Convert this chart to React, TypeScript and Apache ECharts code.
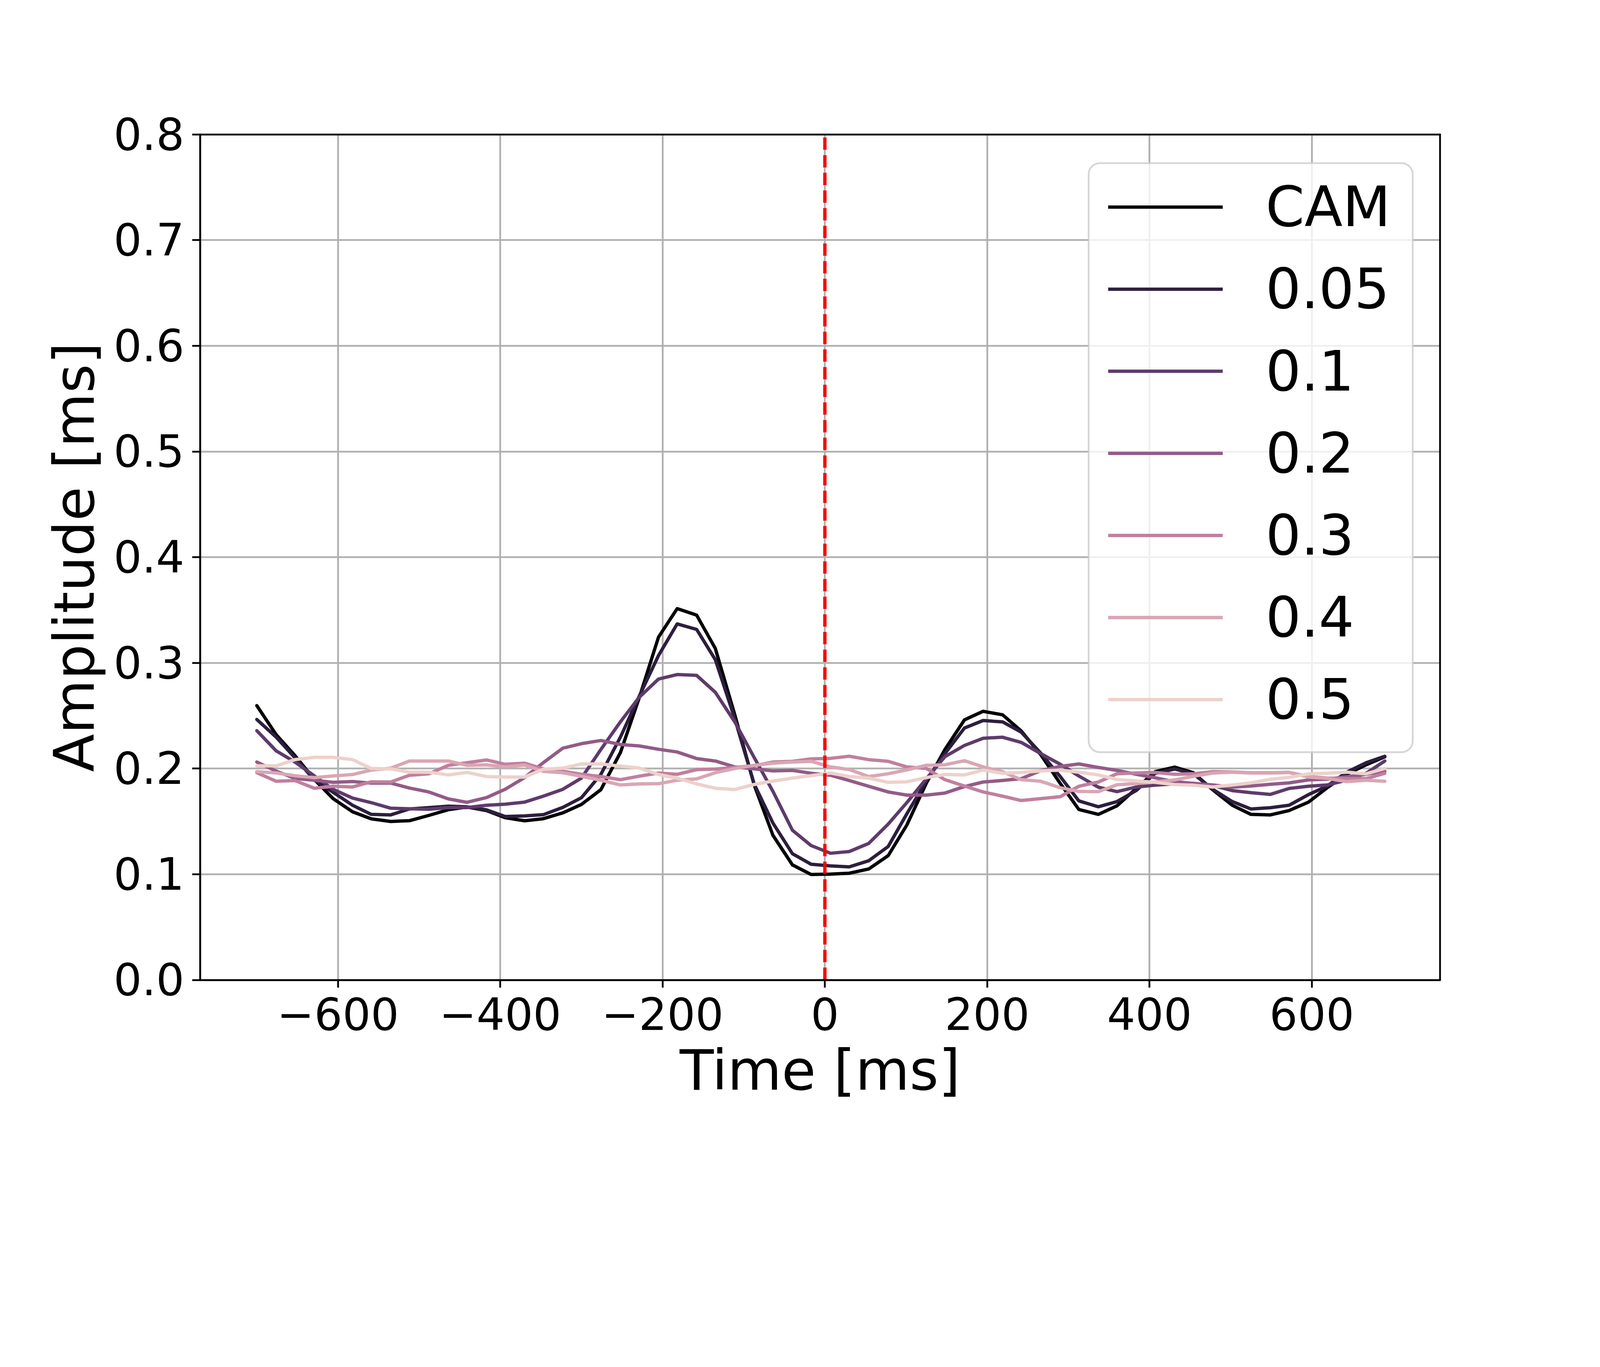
import React, { useEffect, useRef } from "react";
import * as echarts from "echarts";

// Sampling times (ms)
const TIMES = [-700, -676, -653, -629, -606, -582, -559, -535, -512, -488, -464, -441, -417, -394, -370, -347, -323, -300, -276, -252, -229, -205, -182, -158, -135, -111, -87, -64, -40, -17, 7, 30, 54, 78, 101, 125, 148, 172, 195, 219, 242, 266, 290, 313, 337, 360, 384, 407, 431, 454, 478, 502, 525, 549, 572, 596, 619, 643, 667, 690];

const CAM = [0.2595, 0.2319, 0.2122, 0.1895, 0.1715, 0.159, 0.1524, 0.1499, 0.1506, 0.1556, 0.161, 0.1635, 0.1602, 0.1535, 0.1505, 0.1525, 0.158, 0.166, 0.18, 0.215, 0.2663, 0.3243, 0.3513, 0.3451, 0.3136, 0.2508, 0.1842, 0.1368, 0.1088, 0.0997, 0.1001, 0.1009, 0.1049, 0.1175, 0.1465, 0.1861, 0.218, 0.246, 0.2541, 0.2508, 0.2354, 0.2131, 0.1859, 0.1612, 0.1566, 0.1647, 0.1813, 0.197, 0.2013, 0.196, 0.1798, 0.1652, 0.1566, 0.1561, 0.1602, 0.1682, 0.1818, 0.1945, 0.2035, 0.2111];
const S005 = [0.2464, 0.2296, 0.2102, 0.189, 0.1775, 0.1652, 0.1566, 0.1561, 0.1617, 0.163, 0.1644, 0.1637, 0.1609, 0.1546, 0.1551, 0.1563, 0.1632, 0.1723, 0.1945, 0.2296, 0.268, 0.3069, 0.3368, 0.3316, 0.303, 0.247, 0.1851, 0.1484, 0.1194, 0.1094, 0.1078, 0.1069, 0.1127, 0.1262, 0.1571, 0.188, 0.2141, 0.2383, 0.2454, 0.2441, 0.2344, 0.2146, 0.1924, 0.1693, 0.1638, 0.1687, 0.1793, 0.1955, 0.1995, 0.195, 0.1803, 0.1687, 0.1617, 0.1629, 0.1652, 0.1753, 0.1834, 0.1965, 0.2055, 0.2116];
const S01 = [0.2358, 0.2166, 0.2061, 0.1929, 0.1803, 0.172, 0.1677, 0.1624, 0.1619, 0.1614, 0.163, 0.163, 0.1652, 0.1662, 0.1682, 0.1738, 0.1803, 0.1909, 0.218, 0.2441, 0.2672, 0.2846, 0.2889, 0.2881, 0.2721, 0.2441, 0.2102, 0.1784, 0.1416, 0.1271, 0.1198, 0.1214, 0.1291, 0.1474, 0.1677, 0.1903, 0.2112, 0.2218, 0.2286, 0.2296, 0.2247, 0.2141, 0.204, 0.1929, 0.1823, 0.1781, 0.1825, 0.1842, 0.1854, 0.1859, 0.1839, 0.1791, 0.1771, 0.1755, 0.1811, 0.1832, 0.1844, 0.1889, 0.1955, 0.2071];
const S02 = [0.2061, 0.1975, 0.1906, 0.1889, 0.1869, 0.1877, 0.1862, 0.1862, 0.1815, 0.1778, 0.1712, 0.168, 0.1725, 0.1803, 0.1914, 0.2055, 0.2192, 0.2235, 0.2265, 0.2227, 0.2214, 0.2182, 0.2156, 0.2094, 0.2071, 0.2015, 0.1997, 0.1977, 0.1982, 0.1955, 0.1936, 0.1886, 0.1832, 0.1778, 0.1748, 0.1748, 0.1768, 0.1829, 0.1872, 0.1887, 0.1904, 0.198, 0.202, 0.2043, 0.201, 0.1982, 0.1945, 0.1912, 0.1876, 0.1859, 0.1844, 0.1823, 0.1834, 0.1851, 0.1864, 0.1892, 0.1899, 0.1922, 0.1945, 0.1975];
const S03 = [0.196, 0.1879, 0.1886, 0.1813, 0.1832, 0.1825, 0.1874, 0.1872, 0.1936, 0.195, 0.203, 0.2055, 0.2081, 0.204, 0.205, 0.1997, 0.1975, 0.1945, 0.1924, 0.1894, 0.1927, 0.1957, 0.1945, 0.1989, 0.1995, 0.201, 0.2027, 0.2061, 0.2068, 0.2091, 0.2096, 0.2116, 0.2084, 0.2068, 0.2015, 0.2, 0.1894, 0.1834, 0.1778, 0.1738, 0.1697, 0.1715, 0.1733, 0.1832, 0.1872, 0.195, 0.1958, 0.1963, 0.1945, 0.195, 0.197, 0.1967, 0.196, 0.196, 0.1963, 0.1924, 0.1909, 0.1904, 0.1904, 0.1955];
const S04 = [0.197, 0.1958, 0.1931, 0.1914, 0.1929, 0.1943, 0.1985, 0.2003, 0.2071, 0.2071, 0.2071, 0.203, 0.2035, 0.2015, 0.2033, 0.1973, 0.196, 0.1926, 0.1889, 0.1844, 0.1854, 0.1856, 0.1889, 0.1902, 0.196, 0.2, 0.203, 0.205, 0.2061, 0.2068, 0.2015, 0.199, 0.1924, 0.195, 0.1987, 0.203, 0.2035, 0.2074, 0.2015, 0.197, 0.1894, 0.1879, 0.1818, 0.1783, 0.1781, 0.1846, 0.1857, 0.1872, 0.1892, 0.1926, 0.1957, 0.1965, 0.1957, 0.1957, 0.1963, 0.1919, 0.1906, 0.1876, 0.1889, 0.1879];
const S05 = [0.2025, 0.2025, 0.2084, 0.2106, 0.2106, 0.2084, 0.2, 0.1997, 0.1965, 0.1965, 0.1939, 0.1963, 0.1924, 0.1919, 0.1919, 0.1993, 0.2003, 0.2043, 0.2043, 0.2023, 0.2005, 0.1943, 0.1909, 0.1854, 0.1813, 0.1801, 0.1849, 0.1881, 0.1909, 0.1932, 0.1957, 0.1924, 0.1909, 0.1869, 0.1874, 0.1914, 0.1943, 0.1939, 0.1985, 0.1955, 0.1963, 0.1977, 0.1985, 0.1965, 0.1939, 0.1896, 0.1882, 0.1869, 0.1848, 0.1842, 0.1825, 0.1844, 0.1864, 0.1898, 0.1916, 0.1949, 0.1955, 0.1965, 0.195, 0.2];

const SERIES_NAMES = ["CAM", "0.05", "0.1", "0.2", "0.3", "0.4", "0.5"];
const SERIES_VALUES = [CAM, S005, S01, S02, S03, S04, S05];
const COLORS = ["#030204", "#2d1e3e", "#5e3b6b", "#935b88", "#c17f9f", "#daa6b3", "#edd1cb"];

const X_TICKS = [-600, -400, -200, 0, 200, 400, 600];
const X_MIN = -770;
const X_MAX = 758;
const Y_MIN = 0;
const Y_MAX = 0.8;
const Y_STEP = 0.1;
const VLINE_X = 0;

const FONT = "DejaVu Sans";
const DESIGN_W = 5000;
const DESIGN_H = 3500;

export default function App() {
  const ref = useRef<HTMLDivElement>(null);
  const vw = typeof window !== "undefined" && window.innerWidth ? window.innerWidth : DESIGN_W;
  const vh = typeof window !== "undefined" && window.innerHeight ? window.innerHeight : DESIGN_H;
  const s = Math.min(vw / DESIGN_W, vh / DESIGN_H);
  const W = DESIGN_W * s;
  const H = DESIGN_H * s;

  useEffect(() => {
    if (!ref.current) return;
    const p = (v: number) => v * s;
    const chart = echarts.init(ref.current, undefined, { renderer: "svg", width: W, height: H });
    const lw = p(10.4);
    const series: any[] = SERIES_NAMES.map((name, k) => ({
      name,
      type: "line",
      data: TIMES.map((t, i) => [t, SERIES_VALUES[k][i]]),
      symbol: "none",
      showSymbol: false,
      smooth: false,
      color: COLORS[k],
      itemStyle: { color: COLORS[k] },
      lineStyle: { color: COLORS[k], width: lw, join: "round", cap: "round" },
      z: 2,
      silent: true,
    }));
    series.push({
      name: "vline",
      type: "line",
      data: [
        [VLINE_X, Y_MIN],
        [VLINE_X, Y_MAX],
      ],
      symbol: "none",
      showSymbol: false,
      color: "#ff0000",
      itemStyle: { color: "#ff0000" },
      lineStyle: { color: "#ff0000", width: lw, type: [p(38.5), p(16.7)], cap: "butt", opacity: 1 },
      z: 3,
      silent: true,
    });

    const spine = { color: "#000000", width: p(5.56) };
    const gridLine = { color: "#b0b0b0", width: p(5.56) };
    const borderAxis = {
      type: "value",
      axisLine: { show: true, onZero: false, lineStyle: spine },
      axisTick: { show: false },
      axisLabel: { show: false },
      splitLine: { show: false },
      z: 10,
    };
    chart.setOption({
      animation: false,
      backgroundColor: "#ffffff",
      grid: {
        left: p(625),
        top: p(420),
        width: p(3875),
        height: p(2642.5),
        show: false,
      },
      legend: {
        data: SERIES_NAMES,
        orient: "vertical",
        left: p(3402),
        top: p(510),
        icon: "rect",
        itemWidth: p(358),
        itemHeight: p(10.4),
        itemGap: p(82),
        selectedMode: false,
        padding: [p(50), p(69), p(77), p(61)],
        backgroundColor: "rgba(255,255,255,0.8)",
        borderColor: "rgba(204,204,204,0.8)",
        borderWidth: p(5.56),
        borderRadius: p(35),
        z: 20,
        textStyle: {
          fontFamily: FONT,
          fontSize: p(174),
          lineHeight: p(174),
          color: "#000000",
          padding: [0, 0, 0, p(128)],
        },
      },
      xAxis: [
        {
          type: "value",
          position: "bottom",
          min: X_MIN,
          max: X_MAX,
          name: "Time [ms]",
          nameLocation: "middle",
          nameGap: p(196),
          nameTextStyle: { fontFamily: FONT, fontSize: p(174), color: "#000000" },
          axisLine: { show: true, onZero: false, lineStyle: spine },
          axisTick: {
            show: true,
            inside: false,
            length: p(24.3),
            lineStyle: spine,
            customValues: X_TICKS,
          },
          axisLabel: {
            show: true,
            margin: p(39),
            fontFamily: FONT,
            fontSize: p(139),
            color: "#000000",
            customValues: X_TICKS,
            formatter: (v: number) => (v < 0 ? "\u2212" + Math.abs(v) : String(v)),
          },
          splitLine: { show: true, lineStyle: gridLine },
          z: 0,
        },
        { ...borderAxis, position: "top", min: X_MIN, max: X_MAX },
        { ...borderAxis, position: "bottom", min: X_MIN, max: X_MAX },
      ],
      yAxis: [
        {
          type: "value",
          position: "left",
          min: Y_MIN,
          max: Y_MAX,
          interval: Y_STEP,
          name: "Amplitude [ms]",
          nameLocation: "middle",
          nameGap: p(305),
          nameTextStyle: { fontFamily: FONT, fontSize: p(174), color: "#000000" },
          axisLine: { show: true, onZero: false, lineStyle: spine },
          axisTick: { show: true, inside: false, length: p(24.3), lineStyle: spine },
          axisLabel: {
            show: true,
            margin: p(49),
            fontFamily: FONT,
            fontSize: p(139),
            color: "#000000",
            formatter: (v: number) => v.toFixed(1),
          },
          splitLine: { show: true, lineStyle: gridLine },
          z: 0,
        },
        { ...borderAxis, position: "right", min: Y_MIN, max: Y_MAX },
        { ...borderAxis, position: "left", min: Y_MIN, max: Y_MAX },
      ],
      series,
    });
    return () => chart.dispose();
  }, []);
  return (
    <div
      ref={ref}
      style={{ position: "absolute", left: 0, top: 0, width: W, height: H, background: "#ffffff" }}
    />
  );
}
